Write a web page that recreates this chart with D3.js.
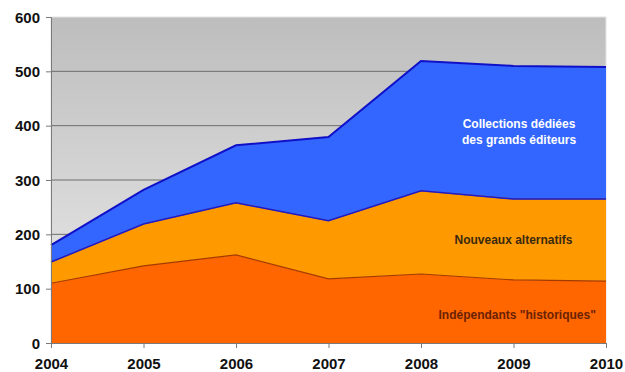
<!DOCTYPE html>
<html>
<head>
<meta charset="utf-8">
<script src="https://cdn.jsdelivr.net/npm/d3@7/dist/d3.min.js"></script>
<style>
  html, body { margin: 0; padding: 0; background: #fff; }
  svg { display: block; font-family: "Liberation Sans", Arial, sans-serif; }
</style>
</head>
<body>
<svg id="chart" width="625" height="372"></svg>
<script>
// Number of publishing houses by category, 2004–2010
const years = [2004, 2005, 2006, 2007, 2008, 2009, 2010];
const historiques = [110, 142, 162, 118, 127, 116, 114];
const nouveaux = [39, 77, 96, 107, 153, 149, 151];
const collections = [31, 63, 106, 154, 239, 245, 243];
const yTicks = [0, 100, 200, 300, 400, 500, 600];

const rows = years.map((y, i) => ({
  year: y,
  historiques: historiques[i],
  nouveaux: nouveaux[i],
  collections: collections[i]
}));

const svg = d3.select("#chart");
const margin = { left: 51, right: 19, top: 17, bottom: 29 };
const W = 625, H = 372;

const x = d3.scaleLinear().domain([2004, 2010]).range([margin.left, W - margin.right]);
const y = d3.scaleLinear().domain([0, 600]).range([H - margin.bottom, margin.top]);

// plot background gradient
const defs = svg.append("defs");
const grad = defs.append("linearGradient").attr("id", "bg").attr("x1", 0).attr("y1", 0).attr("x2", 0).attr("y2", 1);
grad.append("stop").attr("offset", "0%").attr("stop-color", "#bdbdbd");
grad.append("stop").attr("offset", "100%").attr("stop-color", "#ececec");

svg.append("rect")
  .attr("x", x(2004)).attr("y", y(600))
  .attr("width", x(2010) - x(2004)).attr("height", y(0) - y(600))
  .attr("fill", "url(#bg)")
  .attr("stroke", "#e4e4e4").attr("stroke-width", 1);

// gridlines
svg.append("g")
  .selectAll("line")
  .data(yTicks.filter(t => t > 0 && t < 600))
  .join("line")
  .attr("x1", x(2004)).attr("x2", x(2010))
  .attr("y1", d => y(d)).attr("y2", d => y(d))
  .attr("stroke", "#6e6e6e").attr("stroke-width", 1);

// stacked areas
const stack = d3.stack().keys(["historiques", "nouveaux", "collections"]);
const series = stack(rows);
const fills = { historiques: "#ff6600", nouveaux: "#ff9900", collections: "#3366ff" };
const strokes = { historiques: "#a33a00", nouveaux: "#c06a00", collections: "#1010c8" };

const area = d3.area()
  .x(d => x(d.data.year))
  .y0(d => y(d[0]))
  .y1(d => y(d[1]));
const topLine = d3.line()
  .x(d => x(d.data.year))
  .y(d => y(d[1]));

svg.append("g").selectAll("path.area")
  .data(series)
  .join("path")
  .attr("class", "area")
  .attr("d", area)
  .attr("fill", d => fills[d.key]);

svg.append("g").selectAll("path.edge")
  .data(series)
  .join("path")
  .attr("class", "edge")
  .attr("d", topLine)
  .attr("fill", "none")
  .attr("stroke", d => strokes[d.key])
  .attr("stroke-width", d => d.key === "collections" ? 2 : 1.2);

// blue band's lower edge
const blue = series[2];
svg.append("path")
  .attr("d", d3.line().x(d => x(d.data.year)).y(d => y(d[0]))(blue))
  .attr("fill", "none").attr("stroke", "#1a1ad0").attr("stroke-width", 1.5);

// axes
const yAxis = d3.axisLeft(y).tickValues(yTicks).tickSize(5).tickPadding(6);
const xAxis = d3.axisBottom(x).tickValues(years).tickFormat(d3.format("d")).tickSize(5).tickPadding(10);

const gy = svg.append("g").attr("transform", `translate(${x(2004)},0)`).call(yAxis);
const gx = svg.append("g").attr("transform", `translate(0,${y(0)})`).call(xAxis);

[gy, gx].forEach(g => {
  g.select(".domain").attr("stroke", "#7a7a7a").attr("stroke-width", 1);
  g.selectAll(".tick line").attr("stroke", "#7a7a7a");
  g.selectAll(".tick text")
    .attr("fill", "#111")
    .attr("font-size", 15)
    .attr("font-weight", "bold")
    .attr("font-family", "'Liberation Sans', Arial, sans-serif");
});
gy.selectAll(".tick text").attr("dy", "0.35em");

// series labels
const labels = svg.append("g")
  .attr("font-family", "'Liberation Sans', Arial, sans-serif")
  .attr("font-weight", "bold")
  .attr("font-size", 12)
  .attr("text-anchor", "middle");

labels.append("text").attr("x", x(2009.06)).attr("y", 128).attr("fill", "#ffffff").text("Collections dédiées");
labels.append("text").attr("x", x(2009.06)).attr("y", 144).attr("fill", "#ffffff").text("des grands éditeurs");
labels.append("text").attr("x", x(2009.0)).attr("y", 244).attr("fill", "#3a2a10").text("Nouveaux alternatifs");
labels.append("text").attr("x", x(2009.04)).attr("y", 319).attr("fill", "#6b2200").text("Indépendants \"historiques\"");
</script>
</body>
</html>
